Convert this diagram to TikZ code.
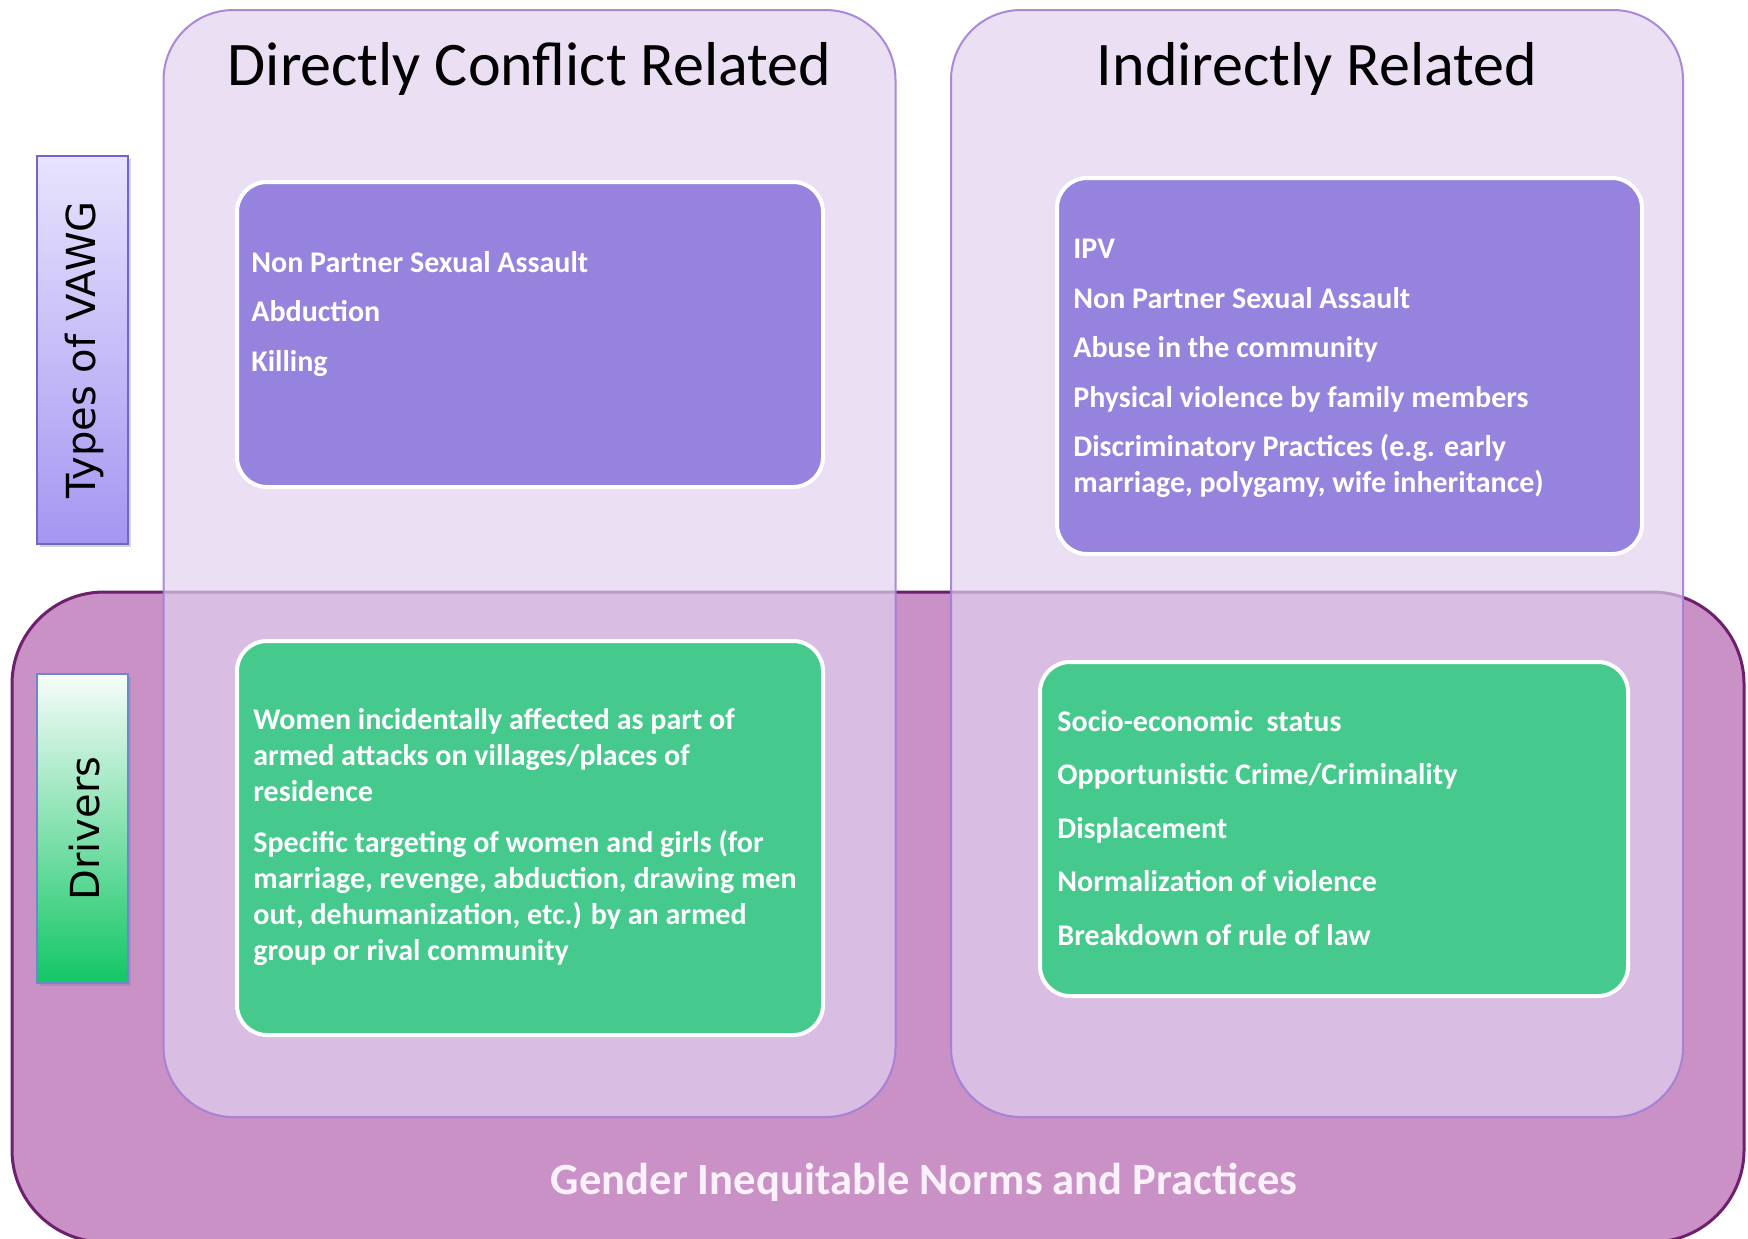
\documentclass[tikz,border=0pt]{standalone}
\usepackage{fontspec}
\setmainfont{Carlito}
\newfontfamily\labelfont{DejaVu Sans}
\usetikzlibrary{positioning,shadows}

\definecolor{genderFill}{HTML}{CA91C6}
\definecolor{genderDraw}{HTML}{6E1F6E}
\definecolor{genderInk}{HTML}{FAF1FA}
\definecolor{columnFill}{HTML}{E1D1EE}
\definecolor{columnDraw}{HTML}{A27ED6}
\definecolor{typesFill}{HTML}{9683DD}
\definecolor{driversFill}{HTML}{45C98D}
\definecolor{vawgTop}{HTML}{E8E3FD}
\definecolor{vawgBottom}{HTML}{A596F2}
\definecolor{vawgDraw}{HTML}{7068C8}
\definecolor{drvTop}{HTML}{F7FCFA}
\definecolor{drvBottom}{HTML}{12C665}
\definecolor{drvDraw}{HTML}{6F86CC}

\begin{document}
\begin{tikzpicture}
[x=0.5pt,y=-0.5pt,
  genderDecorate/.style={draw=genderDraw,line width=1.5pt,fill=genderFill,rounded corners=46pt},
  columnDecorate/.style={draw=columnDraw,line width=1pt,fill=columnFill,fill opacity=0.7,draw opacity=0.9,rounded corners=35pt},
  boxDecorate/.style={draw=white,line width=2pt,rounded corners=15pt,inner sep=0pt},
  sideDecorate/.style={line width=0.8pt,inner sep=0pt,minimum width=45.5pt,
    drop shadow={opacity=0.35,shadow xshift=1.5pt,shadow yshift=-1.5pt}},
  headText/.style={anchor=base,font=\fontsize{31}{37}\selectfont},
  itemText/.style={anchor=north west,align=left,inner sep=0pt,text=white,
    font=\fontsize{15}{18}\selectfont\bfseries},
  sideText/.style={rotate=90,font=\labelfont\fontsize{20}{24}\selectfont}]
\useasboundingbox (0,0) rectangle (1748,1238);

%% background band and columns
\node (gender) [genderDecorate,minimum width=866pt,minimum height=325pt] at (878,917) {};
\foreach \name/\x in {direct/529.5, indirect/1317} {
  \node (\name) [columnDecorate,minimum width=366pt,minimum height=553.5pt] at (\x,563.5) {};
}

%% coloured boxes
\foreach \name/\col/\x/\y/\w/\h in {typesLeft/typesFill/530/334.5/293/152.5,
    typesRight/typesFill/1349.5/366/292.5/188,
    driversLeft/driversFill/530/838/293/197,
    driversRight/driversFill/1334/829/294/167} {
  \node (\name) [boxDecorate,fill=\col,minimum width=\w pt,minimum height=\h pt] at (\x,\y) {};
}

%% side labels
\node (vawg) [sideDecorate,draw=vawgDraw,top color=vawgTop,bottom color=vawgBottom,minimum height=194pt] at (82.5,350) {};
\node (drivers) [sideDecorate,draw=drvDraw,top color=drvTop,bottom color=drvBottom,minimum height=154.5pt] at (82.5,828.5) {};
\node [sideText] at ([xshift=1pt]vawg.center) {Types of VAWG};
\node [sideText] at ([xshift=1pt]drivers.center) {Drivers};

%% headings
\node (directHead) [headText] at (529.5,85) {Directly Conflict Related};
\node (indirectHead) [headText] at (1317,85) {Indirectly Related};
\node (genderHead) [anchor=base,text=genderInk,font=\fontsize{22.3}{26}\selectfont\bfseries] at (924,1194) {Gender Inequitable Norms and Practices};

%% box texts
\node (typesLeftText) [itemText] at (251,251) {Non Partner Sexual Assault\\[6.75pt]
  Abduction\\[6.75pt]
  Killing};
\node (typesRightText) [itemText] at (1073,239) {IPV\\[6.75pt]
  Non Partner Sexual Assault\\[6.75pt]
  Abuse in the community\\[6.75pt]
  Physical violence by family members\\[6.75pt]
  Discriminatory Practices (e.g. early\\
  marriage, polygamy, wife inheritance)};
\node (driversLeftText) [itemText] at (253,708) {Women incidentally affected as part of\\
  armed attacks on villages/places of\\
  residence\\[7.5pt]
  Specific targeting of women and girls (for\\
  marriage, revenge, abduction, drawing men\\
  out, dehumanization, etc.) by an armed\\
  group or rival community};
\node (driversRightText) [itemText] at (1057,710) {Socio-economic\ \ status\\[8.75pt]
  Opportunistic Crime/Criminality\\[8.75pt]
  Displacement\\[8.75pt]
  Normalization of violence\\[8.75pt]
  Breakdown of rule of law};
\end{tikzpicture}
\end{document}
